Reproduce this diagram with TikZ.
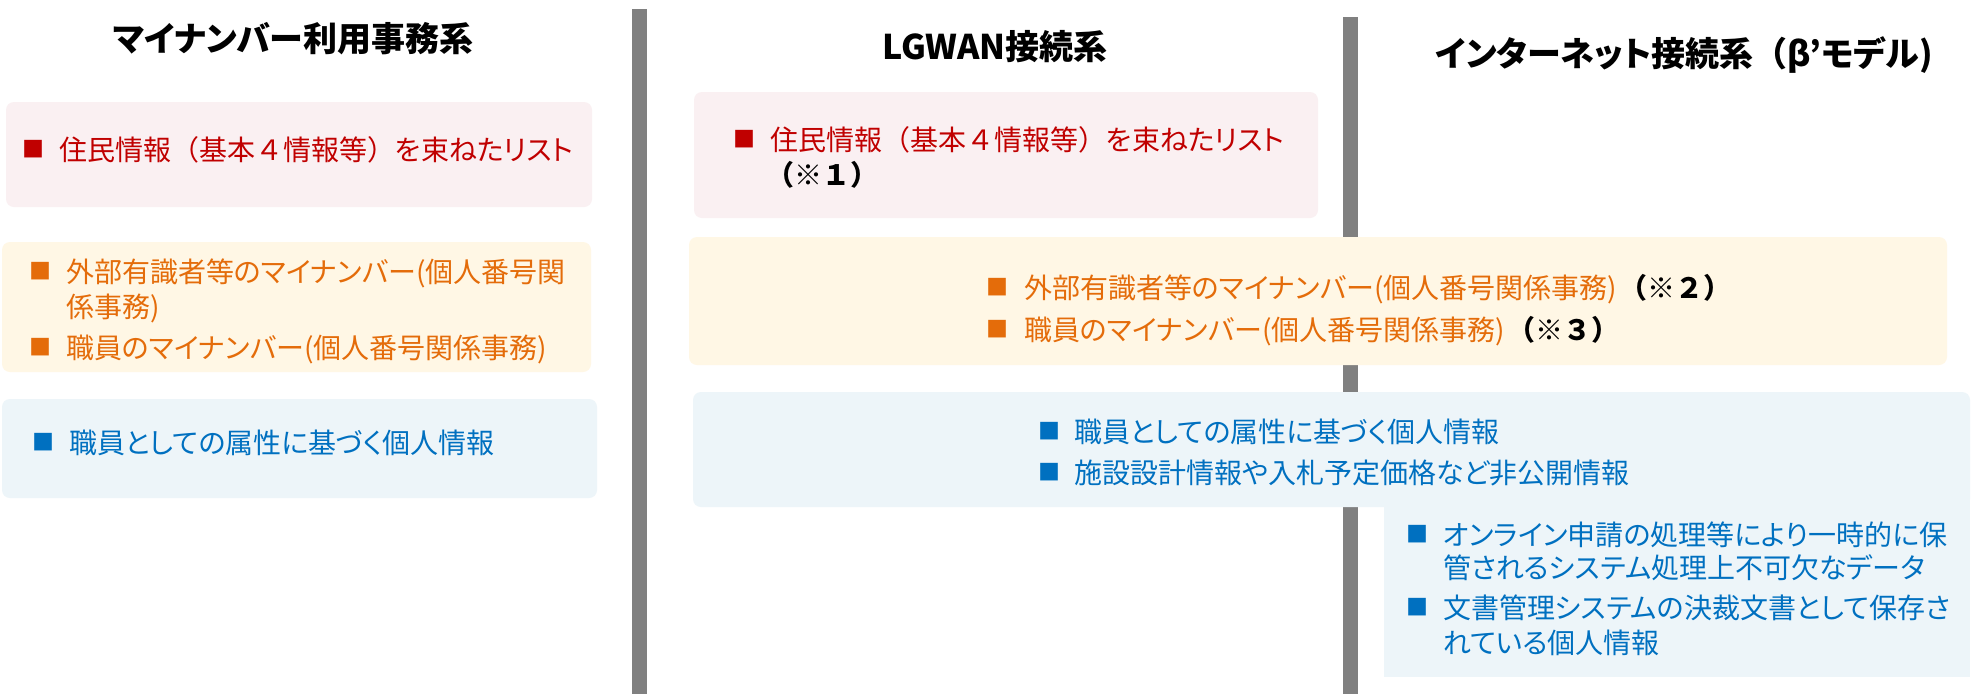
\documentclass[tikz,border=0pt]{standalone}
\usepackage{fontspec}
\newfontfamily\jp{Noto Sans CJK JP}[RawFeature=+palt]
\newfontfamily\jpf{Noto Sans CJK JP}
\newcommand\flp{{\jpf （}}
\newcommand\frp{{\jpf ）}}
\newcommand\ffour{{\jpf ４}}
\definecolor{pinkfill}{HTML}{FAF0F2}
\definecolor{redtxt}{HTML}{C00000}
\definecolor{yelfill}{HTML}{FFF7E5}
\definecolor{orgtxt}{HTML}{E46C0A}
\definecolor{blufill}{HTML}{EDF5F9}
\definecolor{blutxt}{HTML}{0070C0}
\definecolor{bargray}{HTML}{808080}
\tikzset{
  tit/.style={font=\jp\bfseries\fontsize{34}{40}\selectfont, anchor=base, inner sep=0pt},
  txt/.style={font=\jp\fontsize{28}{34}\selectfont, anchor=base west, inner sep=0pt},
  bul/.style={font=\jp\fontsize{22}{26}\selectfont, anchor=base west, inner sep=0pt},
  note/.style={font=\jpf\bfseries\fontsize{28}{34}\selectfont, anchor=base west, inner sep=0pt, text=black},
  rbox/.style={rounded corners=8pt},
}
\begin{document}
\begin{tikzpicture}[x=1pt,y=-1pt]
\fill[white] (0,0) rectangle (1972,694);
\useasboundingbox (0,0) rectangle (1972,694);
% separator bars
\fill[bargray] (632,9) rectangle (647,694);
\fill[bargray] (1343,17) rectangle (1358,694);
% boxes
\fill[pinkfill,rbox] (6,102) rectangle (592,207);
\fill[yelfill,rbox] (2,242) rectangle (591,372);
\fill[blufill,rbox] (2,399) rectangle (597,498);
\fill[pinkfill,rbox] (694,92) rectangle (1318,218);
\fill[yelfill,rbox] (689,237) rectangle (1947,365);
\fill[blufill,rbox] (693,392) rectangle (1970,507);
\fill[blufill] (1384,500) rectangle (1970,677);
% titles
\node[tit] (t1) at (293,51) {マイナンバー利用事務系};
\node[tit] (t2) at (995,59) {LGWAN接続系};
\node[tit] (t3) at (1684,66) {インターネット接続系\flp β’モデル)};
% column 1
\node[bul,text=redtxt] (b1) at (22,157) {■};
\node[txt,text=redtxt] (p1) at (59,160) {住民情報\flp 基本\ffour 情報等\frp を束ねたリスト};
\node[bul,text=orgtxt] (b2) at (29,279) {■};
\node[txt,text=orgtxt] (y1a) at (66,282) {外部有識者等のマイナンバー(個人番号関};
\node[txt,text=orgtxt] (y1b) at (66,317) {係事務)};
\node[bul,text=orgtxt] (b3) at (29,355) {■};
\node[txt,text=orgtxt] (y2) at (66,358) {職員のマイナンバー(個人番号関係事務)};
\node[bul,text=blutxt] (b4) at (32,450) {■};
\node[txt,text=blutxt] (u1) at (69,453) {職員としての属性に基づく個人情報};
% column 2
\node[bul,text=redtxt] (b5) at (733,147) {■};
\node[txt,text=redtxt] (p2) at (770,150) {住民情報\flp 基本\ffour 情報等\frp を束ねたリスト};
\node[note] (n1) at (766,185) {（※１）};
\node[bul,text=orgtxt] (b6) at (986,295) {■};
\node[txt,text=orgtxt] (y3) at (1024,298) {外部有識者等のマイナンバー(個人番号関係事務)};
\node[note] (n2) at ([xshift=2pt]y3.base east) {（※２）};
\node[bul,text=orgtxt] (b7) at (986,337) {■};
\node[txt,text=orgtxt] (y4) at (1024,340) {職員のマイナンバー(個人番号関係事務)};
\node[note] (n3) at ([xshift=2pt]y4.base east) {（※３）};
\node[bul,text=blutxt] (b8) at (1038,439) {■};
\node[txt,text=blutxt] (u2) at (1074,442) {職員としての属性に基づく個人情報};
\node[bul,text=blutxt] (b9) at (1038,480) {■};
\node[txt,text=blutxt] (u3) at (1074,483) {施設設計情報や入札予定価格など非公開情報};
% column 3
\node[bul,text=blutxt] (b10) at (1406,542) {■};
\node[txt,text=blutxt] (u4a) at (1443,545) {オンライン申請の処理等により一時的に保};
\node[txt,text=blutxt] (u4b) at (1443,578) {管されるシステム処理上不可欠なデータ};
\node[bul,text=blutxt] (b11) at (1406,615) {■};
\node[txt,text=blutxt] (u5a) at (1443,618) {文書管理システムの決裁文書として保存さ};
\node[txt,text=blutxt] (u5b) at (1443,653) {れている個人情報};
\end{tikzpicture}
\end{document}
